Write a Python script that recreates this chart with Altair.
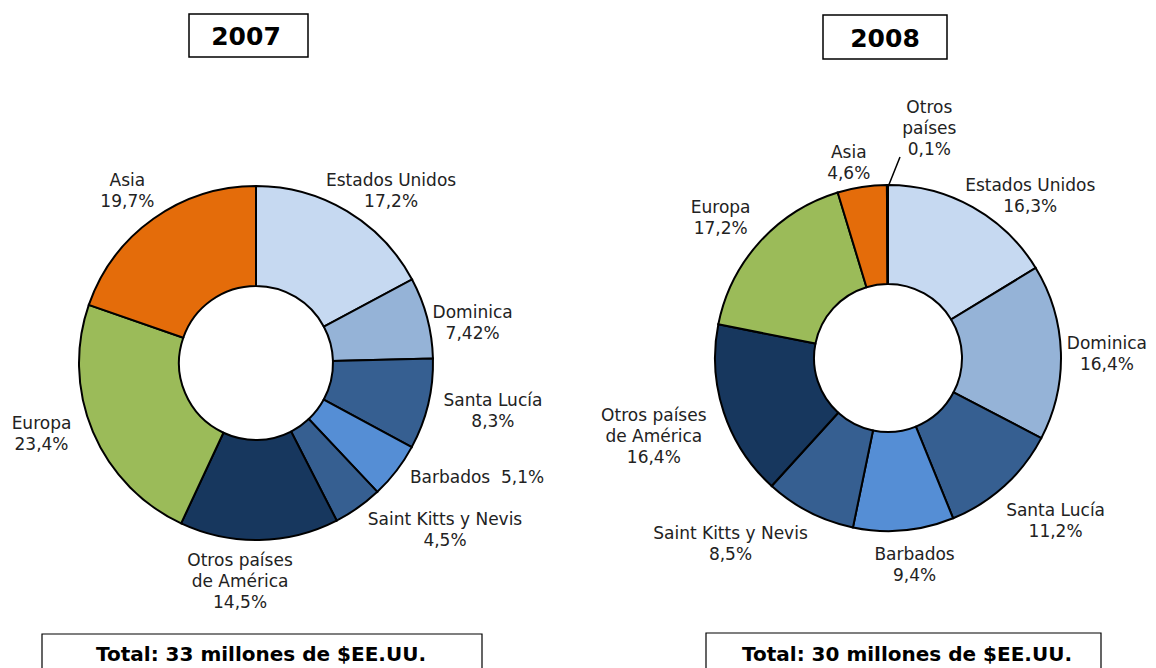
import math
import altair as alt
import pandas as pd

# ---------------- data ----------------
categories_2007 = ["Estados Unidos", "Dominica", "Santa Lucía", "Barbados",
                   "Saint Kitts y Nevis", "Otros países de América", "Europa", "Asia"]
values_2007 = [17.2, 7.42, 8.3, 5.1, 4.5, 14.5, 23.4, 19.7]

categories_2008 = ["Estados Unidos", "Dominica", "Santa Lucía", "Barbados",
                   "Saint Kitts y Nevis", "Otros países de América", "Europa", "Asia",
                   "Otros países"]
values_2008 = [16.3, 16.4, 11.2, 9.4, 8.5, 16.4, 17.2, 4.6, 0.1]

years = ["2007", "2008"]
totals = ["Total: 33 millones de $EE.UU.", "Total: 30 millones de $EE.UU."]

display_names = {
    "Otros países de América": "Otros países\nde América",
    "Otros países": "Otros\npaíses",
}

color_domain = ["Estados Unidos", "Dominica", "Santa Lucía", "Barbados",
                "Saint Kitts y Nevis", "Otros países de América", "Europa", "Asia",
                "Otros países"]
color_range = ["#C6D9F1", "#95B3D7", "#365F91", "#558ED5",
               "#365F91", "#17375E", "#9BBB59", "#E46C0A", "#E46C0A"]

# ---------------- layout (chart px) ----------------
W, H = 1140, 660
FONT = "DejaVu Sans"
TXT = "#222222"
LH = 21
BASE_DY = 2

pies = {
    "2007": dict(cx=248, cy=355, r_out=177, r_in=77, r_lab=222,
                 sep={"Barbados": "\u00a0 "},
                 nudge={"Estados Unidos": (21, 17), "Dominica": (2, 15),
                        "Santa Lucía": (21, -5), "Barbados": (45, -22),
                        "Saint Kitts y Nevis": (61, -16),
                        "Otros países de América": (-20, -5),
                        "Europa": (-10, -17), "Asia": (0, 7)}),
    "2008": dict(cx=880, cy=350, r_out=173, r_in=74, r_lab=215,
                 sep={},
                 nudge={"Estados Unidos": (37, 24), "Dominica": (4, 2),
                        "Santa Lucía": (23, 2), "Barbados": (7, -9),
                        "Saint Kitts y Nevis": (-60, -7),
                        "Otros países de América": (-30, 10),
                        "Europa": (-8, 3), "Asia": (-7, 16),
                        "Otros países": (42, -16)}),
}


def fmt(v):
    return f"{v:g}".replace(".", ",") + "%"


def make_df(cats, vals, sep):
    return pd.DataFrame({
        "cat": cats,
        "val": vals,
        "idx": list(range(len(cats))),
        "label": [display_names.get(c, c) + sep.get(c, "\n") + fmt(v)
                  for c, v in zip(cats, vals)],
    })


data = {"2007": (categories_2007, values_2007), "2008": (categories_2008, values_2008)}

layers = []
one = pd.DataFrame({"a": [0]})

for yr in years:
    cats, vals = data[yr]
    p = pies[yr]
    df = make_df(cats, vals, p["sep"])
    total = float(sum(vals))

    arc = alt.Chart(df).mark_arc(
        outerRadius=p["r_out"], innerRadius=p["r_in"],
        stroke="black", strokeWidth=2
    ).encode(
        theta=alt.Theta("val:Q", stack=True),
        order=alt.Order("idx:Q"),
        color=alt.Color("cat:N", scale=alt.Scale(domain=color_domain, range=color_range),
                        legend=None),
        x=alt.value(p["cx"]),
        y=alt.value(p["cy"]),
    )
    layers.append(arc)

    for c, lab in zip(cats, df["label"]):
        dx, dy = p["nudge"].get(c, (0, 0))
        n_lines = lab.count("\n") + 1
        dy = dy + BASE_DY - (n_lines - 1) * LH / 2
        t = alt.Chart(df).transform_window(
            cum="sum(val)", sort=[alt.SortField("idx")], frame=[None, 0]
        ).transform_calculate(
            mid="datum.cum - datum.val / 2"
        ).transform_filter(
            alt.FieldEqualPredicate(field="cat", equal=c)
        ).mark_text(
            font=FONT, fontSize=17, color=TXT, lineBreak="\n", lineHeight=LH,
            align="center", baseline="middle", dx=dx, dy=dy
        ).encode(
            theta=alt.Theta("mid:Q", scale=alt.Scale(domain=[0, total])),
            radius=alt.value(p["r_lab"]),
            x=alt.value(p["cx"]),
            y=alt.value(p["cy"]),
            text="label:N",
        )
        layers.append(t)

# leader line for "Otros países" (2008)
layers.append(
    alt.Chart(one).mark_rule(color="black", strokeWidth=1.5).encode(
        x=alt.value(880), y=alt.value(179), x2=alt.value(892), y2=alt.value(149)
    )
)

# title boxes
title_boxes = [(181, 300, 6, 49, 238, 37), (815, 939, 7, 51, 877, 39)]
for yr, (x0, x1, y0, y1, tx, ty) in zip(years, title_boxes):
    layers.append(alt.Chart(one).mark_rect(fill="white", stroke="black", strokeWidth=1.5).encode(
        x=alt.value(x0), x2=alt.value(x1), y=alt.value(y0), y2=alt.value(y1)))
    layers.append(alt.Chart(pd.DataFrame({"t": [yr]})).mark_text(
        font=FONT, fontWeight="bold", fontSize=25, color="black",
        align="center", baseline="alphabetic").encode(
        x=alt.value(tx), y=alt.value(ty), text="t:N"))

# total boxes
total_boxes = [(34, 474, 626, 253, 653), (698, 1093, 625, 899, 653)]
for tt, (x0, x1, y0, tx, ty) in zip(totals, total_boxes):
    layers.append(alt.Chart(one).mark_rect(fill="white", stroke="black", strokeWidth=1.2).encode(
        x=alt.value(x0), x2=alt.value(x1), y=alt.value(y0), y2=alt.value(H + 20)))
    layers.append(alt.Chart(pd.DataFrame({"t": [tt]})).mark_text(
        font=FONT, fontWeight="bold", fontSize=20, color="black",
        align="center", baseline="alphabetic").encode(
        x=alt.value(tx), y=alt.value(ty), text="t:N"))

chart = alt.layer(*layers).resolve_scale(
    theta="independent"
).properties(
    width=W, height=H, padding=0, autosize=alt.AutoSizeParams(type="none"),
    background="white"
).configure_view(stroke=None)

chart.save("out.html", embed_options={"renderer": "svg", "actions": False})
